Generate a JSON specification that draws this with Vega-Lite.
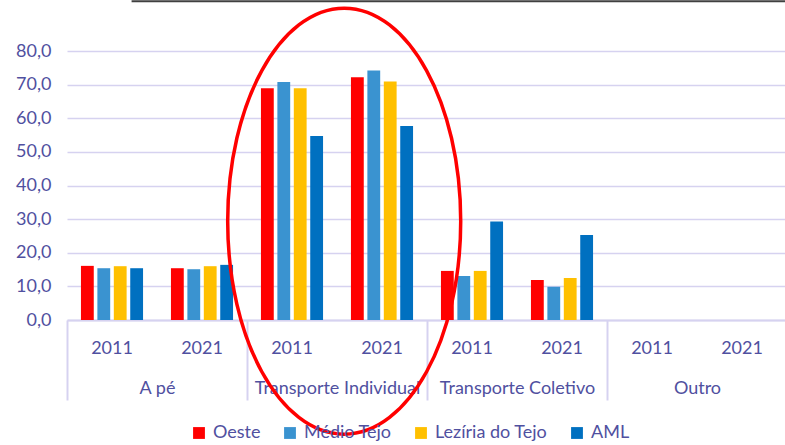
{
  "$schema": "https://vega.github.io/schema/vega-lite/v6.json",
  "width": 720,
  "height": 269,
  "autosize": "none",
  "padding": {"left": 67, "top": 51, "right": 0, "bottom": 125},
  "background": "white",
  "config": {"view": {"stroke": null}, "font": "Lato"},
  "data": {"values": [
    {"modo": "A pé", "ano": "2011", "chave": "A pé|2011", "serie": "Oeste", "valor": 16.1},
    {"modo": "A pé", "ano": "2011", "chave": "A pé|2011", "serie": "Médio Tejo", "valor": 15.4},
    {"modo": "A pé", "ano": "2011", "chave": "A pé|2011", "serie": "Lezíria do Tejo", "valor": 16.0},
    {"modo": "A pé", "ano": "2011", "chave": "A pé|2011", "serie": "AML", "valor": 15.4},
    {"modo": "A pé", "ano": "2021", "chave": "A pé|2021", "serie": "Oeste", "valor": 15.4},
    {"modo": "A pé", "ano": "2021", "chave": "A pé|2021", "serie": "Médio Tejo", "valor": 15.1},
    {"modo": "A pé", "ano": "2021", "chave": "A pé|2021", "serie": "Lezíria do Tejo", "valor": 16.0},
    {"modo": "A pé", "ano": "2021", "chave": "A pé|2021", "serie": "AML", "valor": 16.4},
    {"modo": "Transporte Individual", "ano": "2011", "chave": "Transporte Individual|2011", "serie": "Oeste", "valor": 68.9},
    {"modo": "Transporte Individual", "ano": "2011", "chave": "Transporte Individual|2011", "serie": "Médio Tejo", "valor": 70.8},
    {"modo": "Transporte Individual", "ano": "2011", "chave": "Transporte Individual|2011", "serie": "Lezíria do Tejo", "valor": 68.9},
    {"modo": "Transporte Individual", "ano": "2011", "chave": "Transporte Individual|2011", "serie": "AML", "valor": 54.7},
    {"modo": "Transporte Individual", "ano": "2021", "chave": "Transporte Individual|2021", "serie": "Oeste", "valor": 72.2},
    {"modo": "Transporte Individual", "ano": "2021", "chave": "Transporte Individual|2021", "serie": "Médio Tejo", "valor": 74.2},
    {"modo": "Transporte Individual", "ano": "2021", "chave": "Transporte Individual|2021", "serie": "Lezíria do Tejo", "valor": 70.9},
    {"modo": "Transporte Individual", "ano": "2021", "chave": "Transporte Individual|2021", "serie": "AML", "valor": 57.7},
    {"modo": "Transporte Coletivo", "ano": "2011", "chave": "Transporte Coletivo|2011", "serie": "Oeste", "valor": 14.6},
    {"modo": "Transporte Coletivo", "ano": "2011", "chave": "Transporte Coletivo|2011", "serie": "Médio Tejo", "valor": 13.1},
    {"modo": "Transporte Coletivo", "ano": "2011", "chave": "Transporte Coletivo|2011", "serie": "Lezíria do Tejo", "valor": 14.6},
    {"modo": "Transporte Coletivo", "ano": "2011", "chave": "Transporte Coletivo|2011", "serie": "AML", "valor": 29.3},
    {"modo": "Transporte Coletivo", "ano": "2021", "chave": "Transporte Coletivo|2021", "serie": "Oeste", "valor": 11.9},
    {"modo": "Transporte Coletivo", "ano": "2021", "chave": "Transporte Coletivo|2021", "serie": "Médio Tejo", "valor": 9.9},
    {"modo": "Transporte Coletivo", "ano": "2021", "chave": "Transporte Coletivo|2021", "serie": "Lezíria do Tejo", "valor": 12.5},
    {"modo": "Transporte Coletivo", "ano": "2021", "chave": "Transporte Coletivo|2021", "serie": "AML", "valor": 25.3},
    {"modo": "Outro", "ano": "2011", "chave": "Outro|2011", "serie": "Oeste", "valor": 0},
    {"modo": "Outro", "ano": "2011", "chave": "Outro|2011", "serie": "Médio Tejo", "valor": 0},
    {"modo": "Outro", "ano": "2011", "chave": "Outro|2011", "serie": "Lezíria do Tejo", "valor": 0},
    {"modo": "Outro", "ano": "2011", "chave": "Outro|2011", "serie": "AML", "valor": 0},
    {"modo": "Outro", "ano": "2021", "chave": "Outro|2021", "serie": "Oeste", "valor": 0},
    {"modo": "Outro", "ano": "2021", "chave": "Outro|2021", "serie": "Médio Tejo", "valor": 0},
    {"modo": "Outro", "ano": "2021", "chave": "Outro|2021", "serie": "Lezíria do Tejo", "valor": 0},
    {"modo": "Outro", "ano": "2021", "chave": "Outro|2021", "serie": "AML", "valor": 0}
  ]},
  "layer": [
    {
      "mark": {"type": "bar"},
      "encoding": {
        "x": {
          "field": "chave", "type": "nominal", "sort": null,
          "scale": {"paddingInner": 0.31, "paddingOuter": 0.155},
          "axis": {
            "title": null, "grid": false, "ticks": false,
            "domain": true, "domainColor": "#D6D2F0", "domainWidth": 2,
            "labelExpr": "split(datum.value, '|')[1]",
            "labelAngle": 0, "labelBaseline": "middle", "labelPadding": 28,
            "labelOverlap": false,
            "labelFont": "Lato", "labelFontSize": 18, "labelColor": "#5050A0"
          }
        },
        "xOffset": {
          "field": "serie", "type": "nominal",
          "sort": ["Oeste", "Médio Tejo", "Lezíria do Tejo", "AML"],
          "scale": {"paddingInner": 0.22, "paddingOuter": 0}
        },
        "y": {
          "field": "valor", "type": "quantitative",
          "scale": {"domain": [0, 80], "nice": false},
          "axis": {
            "title": null, "values": [0, 10, 20, 30, 40, 50, 60, 70, 80],
            "domain": false, "ticks": false, "grid": true,
            "gridColor": "#D6D2F0", "gridWidth": 1.5,
            "labelOverlap": false,
            "labelExpr": "replace(format(datum.value, '.1f'), '.', ',')",
            "labelPadding": 16, "labelFont": "Lato", "labelFontSize": 18, "labelColor": "#5050A0"
          }
        },
        "color": {
          "field": "serie", "type": "nominal",
          "scale": {
            "domain": ["Oeste", "Médio Tejo", "Lezíria do Tejo", "AML"],
            "range": ["#FF0000", "#3A93D0", "#FFC000", "#0070C0"]
          },
          "legend": {
            "title": null, "orient": "none", "direction": "horizontal",
            "legendX": 123, "legendY": 373,
            "symbolType": "square", "symbolSize": 140, "symbolStrokeWidth": 0,
            "labelFont": "Lato", "labelFontSize": 18, "labelColor": "#5050A0",
            "labelOffset": 5, "columnPadding": 20
          }
        }
      }
    },
    {
      "mark": {"type": "point", "opacity": 0},
      "encoding": {
        "x": {
          "field": "modo", "type": "nominal", "sort": null,
          "scale": {"paddingInner": 0, "paddingOuter": 0},
          "axis": {
            "title": null, "orient": "bottom", "grid": false, "domain": false,
            "ticks": true, "tickBand": "extent", "tickSize": 80,
            "tickColor": "#D6D2F0", "tickWidth": 2,
            "labelAngle": 0, "labelBaseline": "middle", "labelPadding": -12,
            "labelOverlap": false,
            "labelFont": "Lato", "labelFontSize": 18, "labelColor": "#5050A0"
          }
        }
      }
    },
    {
      "data": {"values": [{"anotacao": "destaque"}]},
      "layer": [
        {
          "mark": {"type": "rule", "color": "#404040", "strokeWidth": 2},
          "encoding": {
            "x": {"datum": 0.0897, "type": "quantitative", "scale": {"domain": [0, 1], "nice": false, "zero": false}, "axis": null},
            "x2": {"datum": 1},
            "y": {"datum": 94.8, "type": "quantitative", "axis": null}
          }
        },
        {
          "mark": {
            "type": "point", "filled": false, "color": "#FF0000", "strokeWidth": 3.5, "opacity": 1,
            "shape": "M 0 -1 C 0.302 -1 0.547 -0.552 0.547 0 C 0.547 0.552 0.302 1 0 1 C -0.302 1 -0.547 0.552 -0.547 0 C -0.547 -0.552 -0.302 -1 0 -1 Z",
            "size": 181476
          },
          "encoding": {
            "x": {"datum": 0.385, "type": "quantitative"},
            "y": {"datum": 29.4, "type": "quantitative", "axis": null}
          }
        }
      ]
    }
  ],
  "resolve": {"scale": {"x": "independent"}, "axis": {"y": "independent"}}
}
